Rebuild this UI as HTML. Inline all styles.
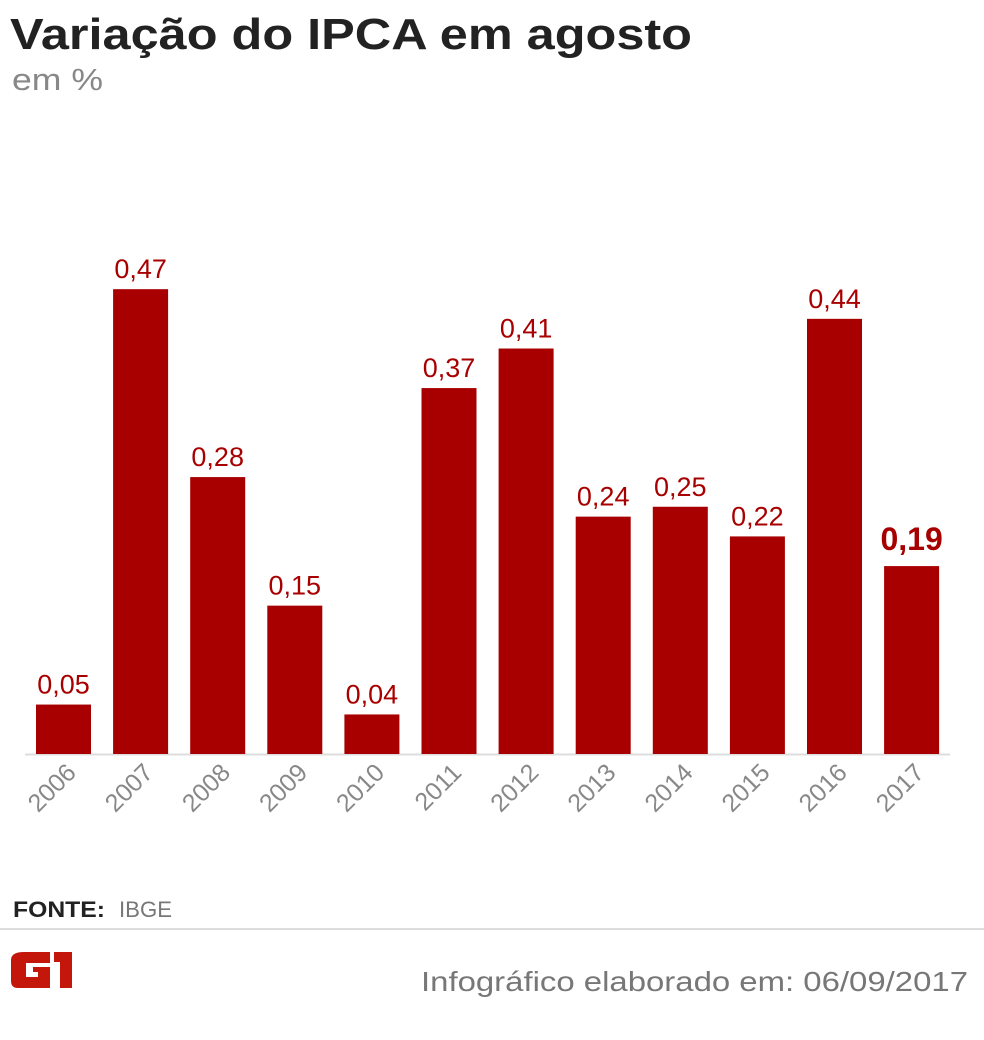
<!DOCTYPE html>
<html><head><meta charset="utf-8"><style>
body{margin:0;width:984px;height:1035px;background:#fff;overflow:hidden;font-family:"Liberation Sans",sans-serif}
</style></head><body>
<svg width="984" height="1035" viewBox="0 0 984 1035" xmlns="http://www.w3.org/2000/svg">
<text x="10" y="49" font-size="44" font-weight="bold" fill="#222" textLength="682" lengthAdjust="spacingAndGlyphs">Variação do IPCA em agosto</text>
<text x="12" y="90" font-size="31" fill="#888" textLength="91" lengthAdjust="spacingAndGlyphs">em %</text>
<line x1="25" y1="754.5" x2="950" y2="754.5" stroke="#ddd" stroke-width="2"/>
<g id="bars"></g>
<text x="13" y="917" font-size="22" font-weight="bold" fill="#222" textLength="92" lengthAdjust="spacingAndGlyphs">FONTE:</text>
<text x="119" y="917" font-size="22" fill="#777" textLength="53" lengthAdjust="spacingAndGlyphs">IBGE</text>
<line x1="0" y1="929" x2="984" y2="929" stroke="#ddd" stroke-width="2"/>
<g>
<path d="M24 952 H50 V963 H26 V977 H38 V972 H33 V967 H50 V988 H18 Q11 988 11 981 V960 Q11 952 24 952 Z" fill="#c4170c"/>
<path d="M54 952 H72 V988 H60 V962 H54 Z" fill="#c4170c"/>
</g>
<text x="421" y="991" font-size="28" fill="#777" textLength="547" lengthAdjust="spacingAndGlyphs">Infográfico elaborado em: 06/09/2017</text>
</svg>
<script>
const categories=["2006","2007","2008","2009","2010","2011","2012","2013","2014","2015","2016","2017"];
const values=[0.05,0.47,0.28,0.15,0.04,0.37,0.41,0.24,0.25,0.22,0.44,0.19];
const valueLabels=["0,05","0,47","0,28","0,15","0,04","0,37","0,41","0,24","0,25","0,22","0,44","0,19"];
const NS="http://www.w3.org/2000/svg";
const baseY=754, scale=989, x0=36, step=77.1, bw=55;
const xPos=i=>x0+i*step;
const yPos=v=>baseY-v*scale;
const g=document.getElementById('bars');
categories.forEach((c,i)=>{
  const r=document.createElementNS(NS,'rect');
  r.setAttribute('x',xPos(i));r.setAttribute('y',yPos(values[i]));
  r.setAttribute('width',bw);r.setAttribute('height',baseY-yPos(values[i]));
  r.setAttribute('fill','#a80000');
  
  
  g.appendChild(r);
  const last=i===categories.length-1;
  const t=document.createElementNS(NS,'text');
  t.setAttribute('x',xPos(i)+bw/2);t.setAttribute('y',yPos(values[i])-(last?16:11));
  t.setAttribute('text-anchor','middle');t.setAttribute('fill','#a80000');
  t.setAttribute('font-size',last?32:27);
  if(last)t.setAttribute('font-weight','bold');
  t.textContent=valueLabels[i];
  
  
  g.appendChild(t);
  const l=document.createElementNS(NS,'text');
  const lx=xPos(i)+bw/2+14, ly=774;
  l.setAttribute('x',lx);l.setAttribute('y',ly);
  l.setAttribute('text-anchor','end');l.setAttribute('fill','#888');
  l.setAttribute('font-size',25);
  l.setAttribute('transform','rotate(-45 '+lx+' '+ly+')');
  l.textContent=c;
  
  
  g.appendChild(l);
});
</script>
</body></html>
